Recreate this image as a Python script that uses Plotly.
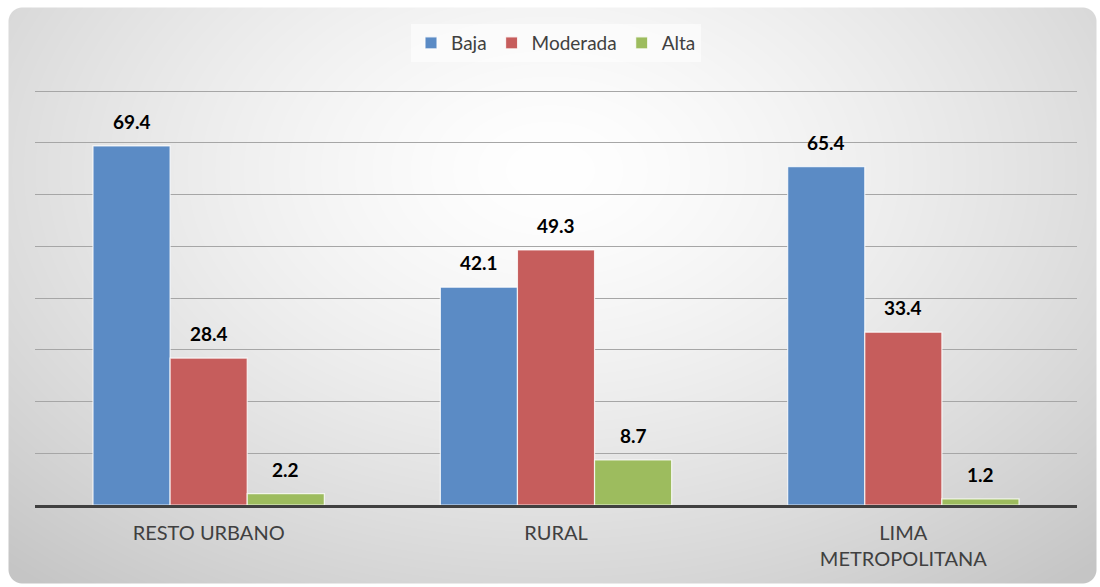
import base64, struct, zlib
import numpy as np
import plotly.graph_objects as go

# ---- data ----
categories = ["RESTO URBANO", "RURAL", "LIMA<br>METROPOLITANA"]
series_names = ["Baja", "Moderada", "Alta"]
baja = [69.4, 42.1, 65.4]
moderada = [28.4, 49.3, 33.4]
alta = [2.2, 8.7, 1.2]
colors = ["#5b8bc5", "#c65d5c", "#9dbc5e"]

W, H = 1100, 587
ML, MR, MT, MB = 35, 23, 90, 82
PW, PH = W - ML - MR, H - MT - MB
BARGAP = 0.334
YMAX = 80.2


# ---- background: rounded panel with radial gradient (PNG built in memory) ----
def make_bg():
    yy, xx = np.mgrid[0:H, 0:W].astype(float)
    t = np.sqrt(((xx - 550) / 700.0) ** 2 + ((yy - 170) / 470.0) ** 2)
    t = np.clip(t, 0, 1.15)
    v = 255 - 58 * (t / 1.15) ** 1.4
    x0, y0, x1, y1, r = 8, 7, 1096, 583, 14
    cx = np.clip(xx, x0 + r, x1 - r)
    cy = np.clip(yy, y0 + r, y1 - r)
    d = np.sqrt((xx - cx) ** 2 + (yy - cy) ** 2) - r
    a = np.clip(0.5 - d, 0, 1)
    v = v * a + 255 * (1 - a)
    rgb = np.clip(v, 0, 255).astype(np.uint8)
    img = np.stack([rgb, rgb, rgb, np.full_like(rgb, 255)], axis=-1)
    raw = b"".join(b"\x00" + img[i].tobytes() for i in range(H))

    def chunk(tag, data):
        c = struct.pack(">I", len(data)) + tag + data
        return c + struct.pack(">I", zlib.crc32(tag + data) & 0xFFFFFFFF)

    png = b"\x89PNG\r\n\x1a\n"
    png += chunk(b"IHDR", struct.pack(">IIBBBBB", W, H, 8, 6, 0, 0, 0))
    png += chunk(b"IDAT", zlib.compress(raw, 9))
    png += chunk(b"IEND", b"")
    return "data:image/png;base64," + base64.b64encode(png).decode()


fig = go.Figure()
for name, vals, col in zip(series_names, [baja, moderada, alta], colors):
    fig.add_trace(go.Bar(
        name=name, x=categories, y=vals,
        marker=dict(color=col, line=dict(color="rgba(255,255,255,0.8)", width=1.2)),
        hoverinfo="skip",
    ))

# data labels
bw = (1 - BARGAP) / 3
annotations = []
for k, vals in enumerate([baja, moderada, alta]):
    for i, v in enumerate(vals):
        annotations.append(dict(
            x=i + (k - 1) * bw, y=v, xref="x", yref="y",
            text="<b>%.1f</b>" % v, showarrow=False,
            yanchor="bottom", yshift=11,
            font=dict(family="Lato", size=19, color="#000000"),
        ))

fig.update_layout(
    width=W, height=H,
    margin=dict(l=ML, r=MR, t=MT, b=MB, pad=0),
    paper_bgcolor="white",
    plot_bgcolor="rgba(0,0,0,0)",
    barmode="group", bargap=BARGAP, bargroupgap=0,
    font=dict(family="Lato", color="#404040"),
    showlegend=True,
    legend=dict(
        orientation="h", x=0.5, xanchor="center",
        y=1 + (MT - 43) / PH, yanchor="middle",
        bgcolor="rgba(255,255,255,0.55)",
        font=dict(family="Lato", size=19, color="#404040"),
        itemwidth=30, tracegroupgap=0,
    ),
    xaxis=dict(
        showline=True, linecolor="#404040", linewidth=3,
        showgrid=False, ticks="",
        tickfont=dict(family="Lato", size=20, color="#404040"),
        ticklabelstandoff=8, fixedrange=True,
    ),
    yaxis=dict(
        range=[0, YMAX], dtick=10, showticklabels=False,
        showgrid=True, gridcolor="#a6a6a6", gridwidth=1,
        zeroline=False, fixedrange=True,
    ),
    annotations=annotations,
    images=[dict(
        source=make_bg(), xref="paper", yref="paper",
        x=-ML / PW, y=1 + MT / PH, sizex=W / PW, sizey=H / PH,
        xanchor="left", yanchor="top", sizing="stretch", layer="below",
    )],
)

fig.write_html(
    "out.html",
    config={"displayModeBar": False},
    post_script="document.body.style.margin='0';document.body.style.padding='0';",
)
